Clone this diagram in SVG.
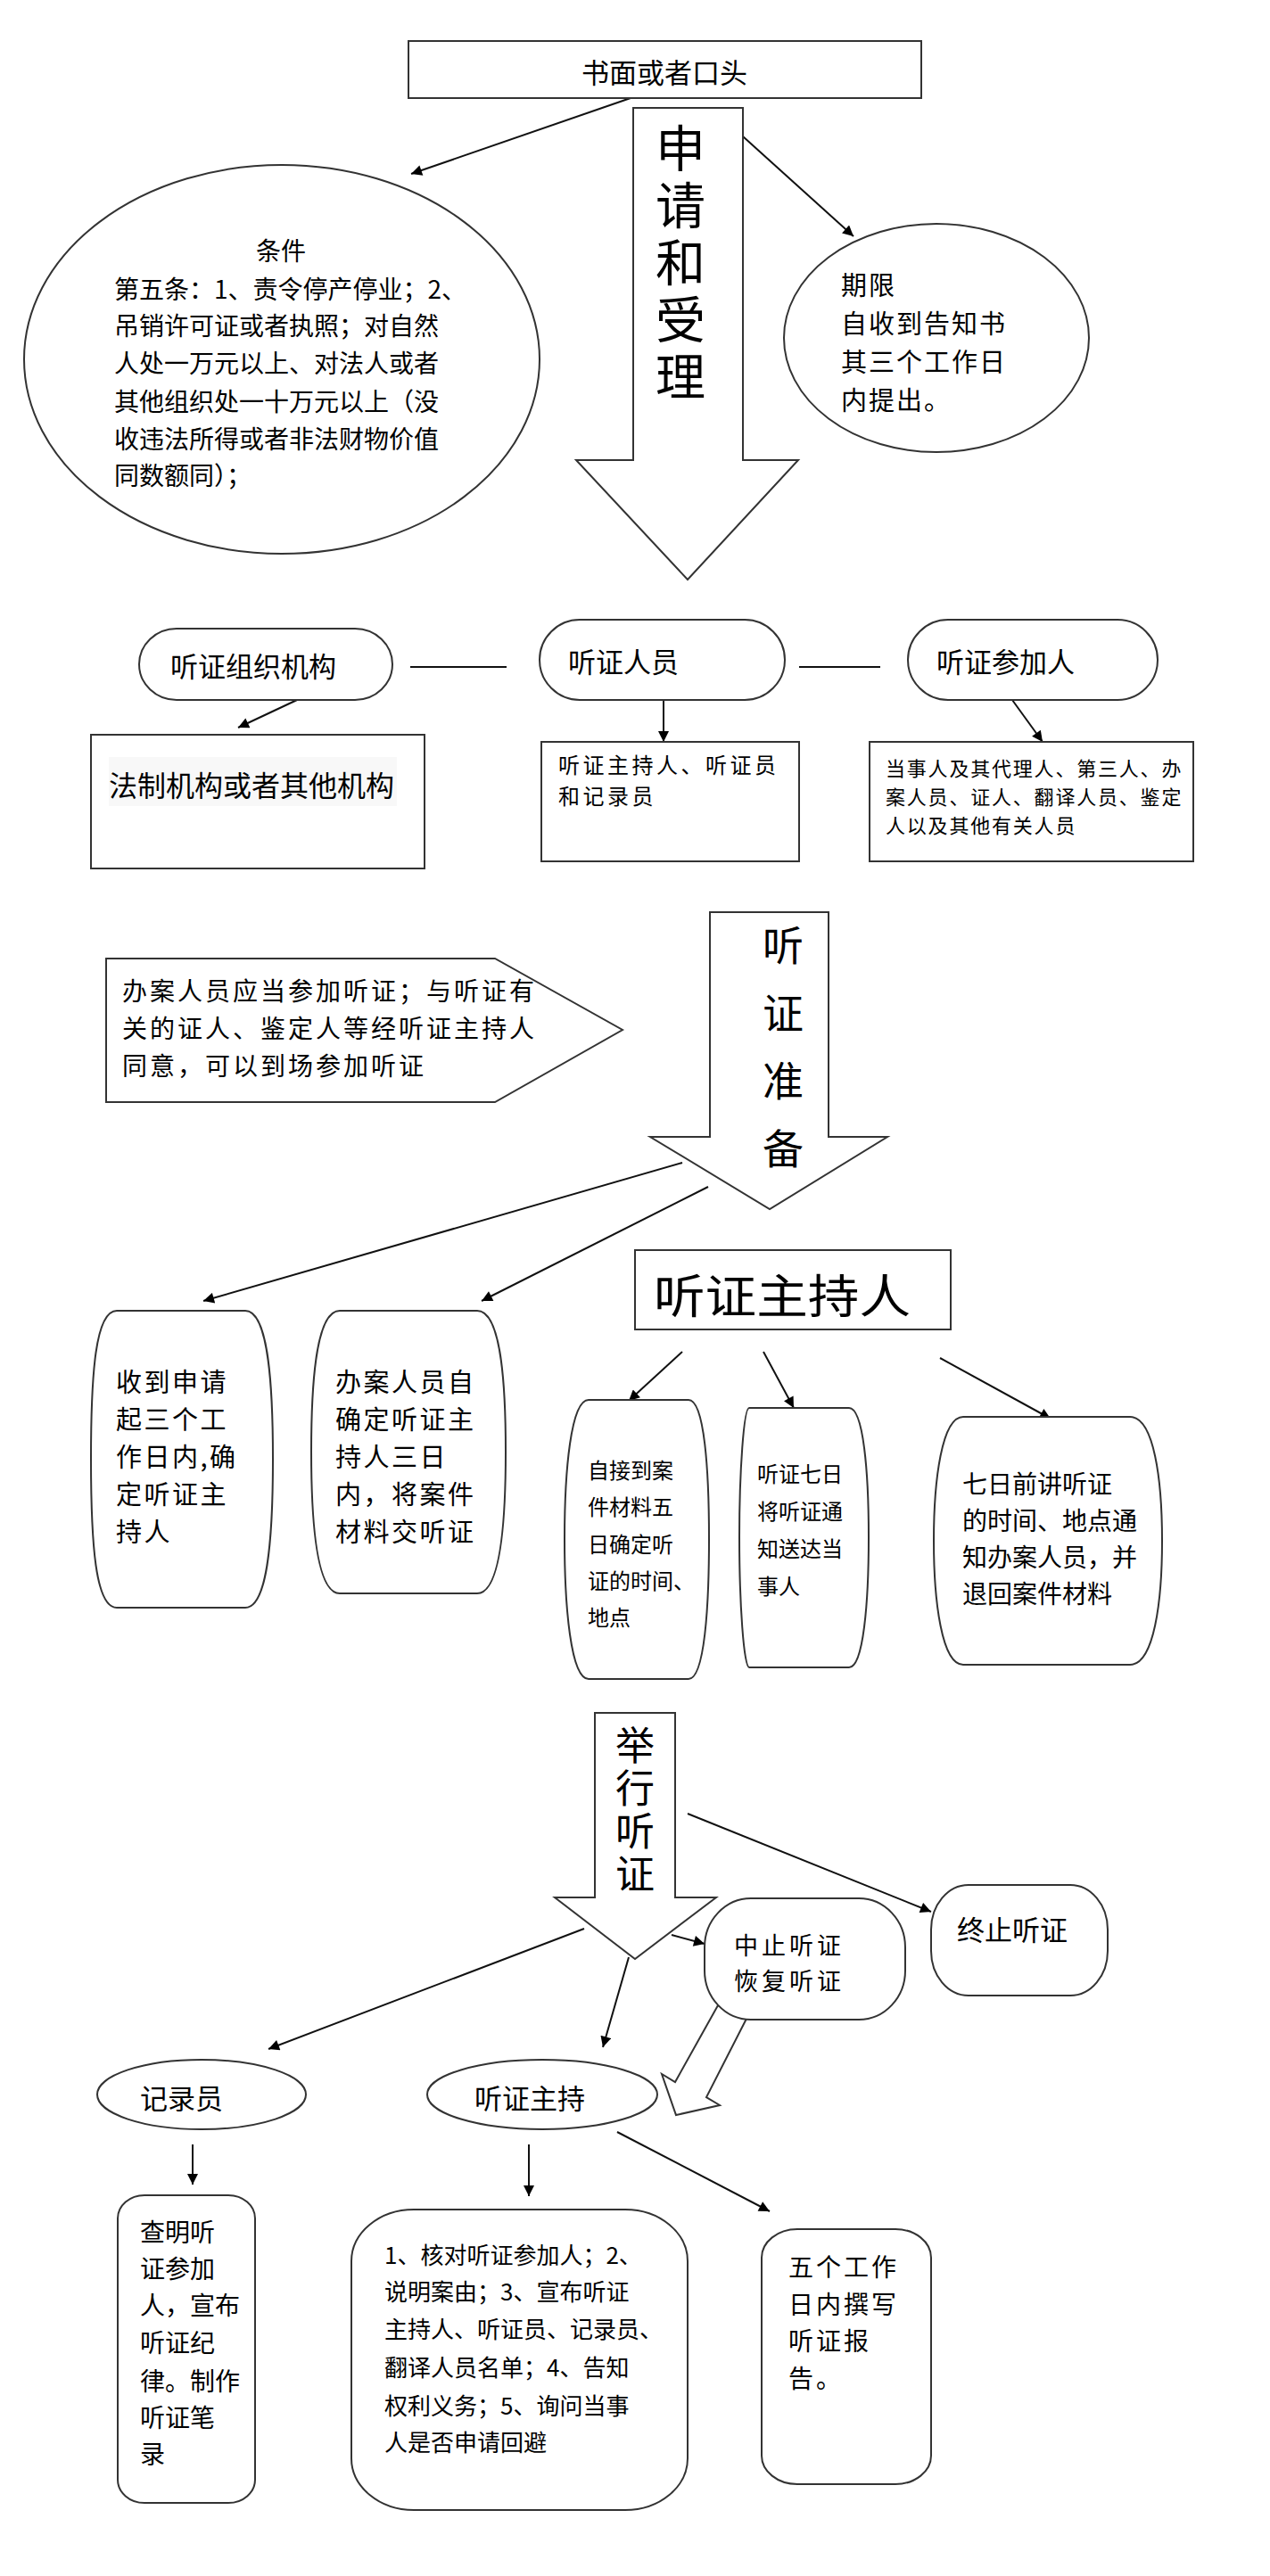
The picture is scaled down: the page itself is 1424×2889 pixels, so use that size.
<svg xmlns="http://www.w3.org/2000/svg" width="1424" height="2889" viewBox="0 0 1424 2889">
<defs>
<marker id="ah" viewBox="0 0 10 10" refX="10" refY="5" markerWidth="15" markerHeight="12" markerUnits="userSpaceOnUse" orient="auto">
<path d="M0,0 L10,5 L0,10 z" fill="#000"/>
</marker>
<style>
.t{font-family:"Noto Sans CJK SC","Noto Sans",sans-serif;fill:#000;dominant-baseline:central}
.m{text-anchor:middle}
.v{font-family:"Noto Sans CJK SC","Noto Sans",sans-serif;fill:#000;writing-mode:vertical-rl}
.s{fill:#fff;stroke:#333;stroke-width:2}
.c{stroke:#111;stroke-width:2;fill:none}
.a{stroke:#111;stroke-width:2;fill:none;marker-end:url(#ah)}
</style>
</defs>
<rect width="1424" height="2889" fill="#fff"/>

<g id="connectors">
<line class="a" x1="707" y1="110" x2="461" y2="195"/>
<line class="a" x1="833" y1="153" x2="957" y2="265"/>
<line class="c" x1="460" y1="748" x2="568" y2="748"/>
<line class="c" x1="896" y1="748" x2="987" y2="748"/>
<line class="a" x1="333" y1="785" x2="267" y2="816"/>
<line class="a" x1="744" y1="785" x2="744" y2="832"/>
<line class="a" x1="1135" y1="785" x2="1169" y2="832"/>
<line class="a" x1="765" y1="1304" x2="228" y2="1459"/>
<line class="a" x1="794" y1="1331" x2="540" y2="1459"/>
<line class="a" x1="765" y1="1516" x2="705" y2="1571"/>
<line class="a" x1="856" y1="1516" x2="890" y2="1579"/>
<line class="a" x1="1054" y1="1523" x2="1178" y2="1591"/>
<line class="a" x1="771" y1="2034" x2="1044" y2="2144"/>
<line class="a" x1="753" y1="2170" x2="790" y2="2180"/>
<line class="a" x1="655" y1="2163" x2="301" y2="2298"/>
<line class="a" x1="705" y1="2195" x2="676" y2="2296"/>
<line class="a" x1="216" y1="2405" x2="216" y2="2450"/>
<line class="a" x1="593" y1="2405" x2="593" y2="2463"/>
<line class="a" x1="692" y1="2391" x2="863" y2="2480"/>
<polygon class="s" points="805,2249 837,2264 792,2352 807,2361 758,2372 742,2326 757,2335"/>
</g>

<g id="n-top">
<rect class="s" x="458" y="46" width="575" height="64"/>
<text class="t m" x="745" y="79" font-size="31">书面或者口头</text>
</g>

<g id="n-arrow1">
<polygon class="s" points="710,121 833,121 833,516 895,516 771,650 646,516 710,516"/>
<text class="v" x="763" y="138" font-size="56" letter-spacing="8">申请和受理</text>
</g>

<g id="n-cond">
<ellipse class="s" cx="316" cy="403" rx="289" ry="218"/>
<g class="t" font-size="28">
<text class="m" x="315" y="280">条件</text>
<text x="128" y="323">第五条：1、责令停产停业；2、</text>
<text x="128" y="364">吊销许可证或者执照；对自然</text>
<text x="128" y="406">人处一万元以上、对法人或者</text>
<text x="128" y="449">其他组织处一十万元以上（没</text>
<text x="128" y="491">收违法所得或者非法财物价值</text>
<text x="128" y="532">同数额同）；</text>
</g>
</g>

<g id="n-limit">
<ellipse class="s" cx="1050" cy="379" rx="171" ry="128"/>
<g class="t" font-size="29" letter-spacing="2">
<text x="943" y="318">期限</text>
<text x="943" y="361">自收到告知书</text>
<text x="943" y="404">其三个工作日</text>
<text x="943" y="447">内提出。</text>
</g>
</g>

<g id="n-org">
<rect class="s" x="156" y="705" width="284" height="80" rx="42" ry="40"/>
<text class="t m" x="284" y="745" font-size="31">听证组织机构</text>
</g>
<g id="n-staff">
<rect class="s" x="605" y="695" width="275" height="90" rx="45" ry="45"/>
<text class="t" x="637" y="740" font-size="31">听证人员</text>
</g>
<g id="n-part">
<rect class="s" x="1018" y="695" width="280" height="90" rx="45" ry="45"/>
<text class="t" x="1050" y="740" font-size="31">听证参加人</text>
</g>

<g id="n-legal">
<rect class="s" x="102" y="824" width="374" height="150"/>
<rect x="122" y="849" width="323" height="55" fill="#f8f8f8"/>
<text class="t" x="122" y="879" font-size="32">法制机构或者其他机构</text>
</g>
<g id="n-staff-detail">
<rect class="s" x="607" y="832" width="289" height="134"/>
<g class="t" font-size="24" letter-spacing="3.5">
<text x="626" y="856">听证主持人、听证员</text>
<text x="626" y="891">和记录员</text>
</g>
</g>
<g id="n-part-detail">
<rect class="s" x="975" y="832" width="363" height="134"/>
<g class="t" font-size="22" letter-spacing="1.8">
<text x="993" y="860">当事人及其代理人、第三人、办</text>
<text x="993" y="892">案人员、证人、翻译人员、鉴定</text>
<text x="993" y="924">人以及其他有关人员</text>
</g>
</g>

<g id="n-note">
<polygon class="s" points="119,1075 555,1075 698,1155 555,1236 119,1236"/>
<g class="t" font-size="28" letter-spacing="3">
<text x="137" y="1110">办案人员应当参加听证；与听证有</text>
<text x="137" y="1152">关的证人、鉴定人等经听证主持人</text>
<text x="137" y="1194">同意，可以到场参加听证</text>
</g>
</g>

<g id="n-arrow2">
<polygon class="s" points="796,1023 929,1023 929,1275 995,1275 863,1356 729,1275 796,1275"/>
<text class="v" x="878" y="1037" font-size="46" letter-spacing="30">听证准备</text>
</g>

<g id="n-host">
<rect class="s" x="712" y="1402" width="354" height="89"/>
<text class="t" x="733" y="1450" font-size="52" textLength="288" lengthAdjust="spacingAndGlyphs">听证主持人</text>
</g>

<g id="n-b1">
<path class="s" d="M131,1470 L275,1470 C299,1470 306,1540 306,1636 C306,1732 299,1803 275,1803 L131,1803 C107,1803 102,1732 102,1636 C102,1540 107,1470 131,1470 Z"/>
<g class="t" font-size="29" letter-spacing="2.5">
<text x="130" y="1548">收到申请</text>
<text x="130" y="1590">起三个工</text>
<text x="130" y="1632">作日内,确</text>
<text x="130" y="1674">定听证主</text>
<text x="130" y="1716">持人</text>
</g>
</g>
<g id="n-b2">
<path class="s" d="M381,1470 L535,1470 C560,1470 567,1540 567,1628 C567,1716 560,1787 535,1787 L381,1787 C356,1787 349,1716 349,1628 C349,1540 356,1470 381,1470 Z"/>
<g class="t" font-size="29" letter-spacing="2.5">
<text x="376" y="1548">办案人员自</text>
<text x="376" y="1590">确定听证主</text>
<text x="376" y="1632">持人三日</text>
<text x="376" y="1674">内，将案件</text>
<text x="376" y="1716">材料交听证</text>
</g>
</g>
<g id="n-b3">
<path class="s" d="M660,1570 L772,1570 C790,1570 795,1650 795,1726 C795,1802 790,1883 772,1883 L660,1883 C640,1883 633,1802 633,1726 C633,1650 640,1570 660,1570 Z"/>
<g class="t" font-size="24">
<text x="659" y="1647">自接到案</text>
<text x="659" y="1688">件材料五</text>
<text x="659" y="1730">日确定听</text>
<text x="659" y="1771">证的时间、</text>
<text x="659" y="1812">地点</text>
</g>
</g>
<g id="n-b4">
<path class="s" d="M840,1579 L952,1579 C968,1579 974,1650 974,1724 C974,1798 968,1870 952,1870 L840,1870 C834,1870 829,1798 829,1724 C829,1650 834,1579 840,1579 Z"/>
<g class="t" font-size="24">
<text x="849" y="1651">听证七日</text>
<text x="849" y="1693">将听证通</text>
<text x="849" y="1735">知送达当</text>
<text x="849" y="1777">事人</text>
</g>
</g>
<g id="n-b5">
<path class="s" d="M1080,1589 L1267,1589 C1294,1589 1303,1660 1303,1728 C1303,1796 1294,1867 1267,1867 L1080,1867 C1056,1867 1047,1796 1047,1728 C1047,1660 1056,1589 1080,1589 Z"/>
<g class="t" font-size="28">
<text x="1079" y="1663">七日前讲听证</text>
<text x="1079" y="1704">的时间、地点通</text>
<text x="1079" y="1745">知办案人员，并</text>
<text x="1079" y="1786">退回案件材料</text>
</g>
</g>

<g id="n-arrow3">
<polygon class="s" points="667,1921 757,1921 757,2128 803,2128 712,2197 622,2128 667,2128"/>
<text class="v" x="712" y="1935" font-size="44" letter-spacing="4">举行听证</text>
</g>

<g id="n-suspend">
<rect class="s" x="790" y="2129" width="225" height="136" rx="52" ry="55"/>
<g class="t" font-size="27" letter-spacing="4">
<text x="823" y="2180">中止听证</text>
<text x="823" y="2220">恢复听证</text>
</g>
</g>
<g id="n-end">
<rect class="s" x="1044" y="2114" width="198" height="124" rx="42" ry="50"/>
<text class="t" x="1073" y="2162" font-size="31">终止听证</text>
</g>

<g id="n-clerk">
<ellipse class="s" cx="226" cy="2349" rx="117" ry="39"/>
<text class="t" x="157" y="2351" font-size="31">记录员</text>
</g>
<g id="n-preside">
<ellipse class="s" cx="608" cy="2349" rx="129" ry="39"/>
<text class="t" x="532" y="2351" font-size="31">听证主持</text>
</g>

<g id="n-r1">
<rect class="s" x="132" y="2462" width="154" height="345" rx="30" ry="26"/>
<g class="t" font-size="28">
<text x="157" y="2502">查明听</text>
<text x="157" y="2543">证参加</text>
<text x="157" y="2584">人，宣布</text>
<text x="157" y="2626">听证纪</text>
<text x="157" y="2669">律。制作</text>
<text x="157" y="2710">听证笔</text>
<text x="157" y="2751">录</text>
</g>
</g>
<g id="n-r2">
<rect class="s" x="394" y="2478" width="377" height="337" rx="70" ry="58"/>
<g class="t" font-size="26">
<text x="431" y="2527">1、核对听证参加人；2、</text>
<text x="431" y="2568">说明案由；3、宣布听证</text>
<text x="431" y="2610">主持人、听证员、记录员、</text>
<text x="431" y="2653">翻译人员名单；4、告知</text>
<text x="431" y="2696">权利义务；5、询问当事</text>
<text x="431" y="2737">人是否申请回避</text>
</g>
</g>
<g id="n-r3">
<rect class="s" x="854" y="2500" width="190" height="286" rx="40" ry="32"/>
<g class="t" font-size="28" letter-spacing="3">
<text x="884" y="2541">五个工作</text>
<text x="884" y="2583">日内撰写</text>
<text x="884" y="2624">听证报</text>
<text x="884" y="2666">告。</text>
</g>
</g>
</svg>
